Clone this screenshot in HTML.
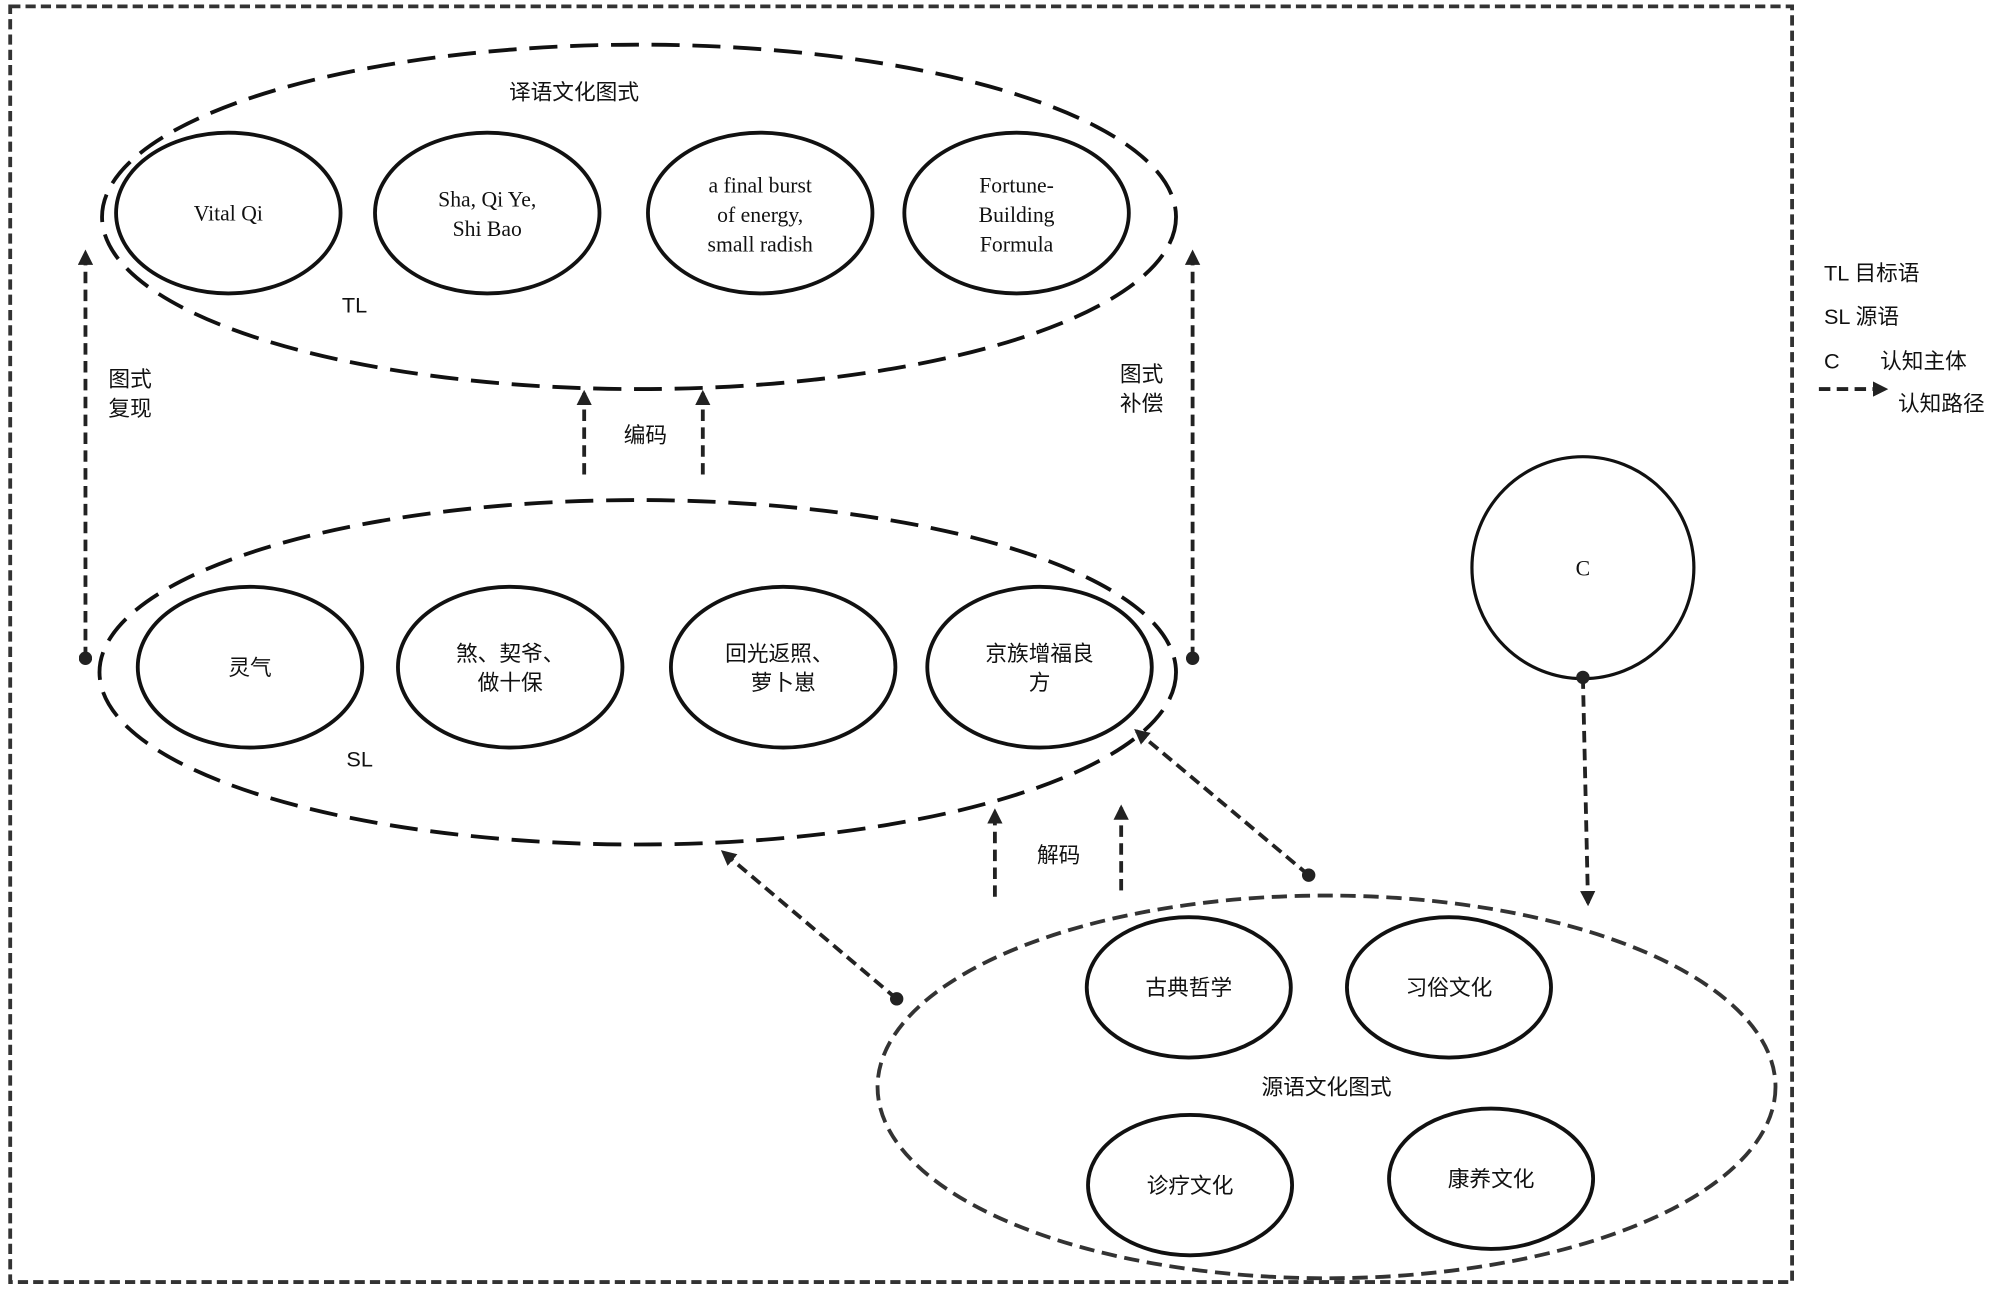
<!DOCTYPE html>
<html><head><meta charset="utf-8"><style>
html,body{margin:0;padding:0;background:#fff;}
svg{display:block;}
.cn{font-family:"Liberation Sans","Noto Sans CJK SC",sans-serif;font-size:17px;fill:#111;text-anchor:middle;}
.en{font-family:"Liberation Serif",serif;font-size:17px;fill:#111;text-anchor:middle;}
</style></head><body>
<svg width="2000" height="1291" viewBox="0 0 1568 1012" preserveAspectRatio="none" xmlns="http://www.w3.org/2000/svg">
<defs>
<marker id="ah" viewBox="0 0 10 10" refX="8" refY="5" markerWidth="4" markerHeight="4" orient="auto"><path d="M0,0 L10,5 L0,10 z" fill="#222"/></marker>
<marker id="dot" viewBox="0 0 10 10" refX="5" refY="5" markerWidth="3.5" markerHeight="3.5"><circle cx="5" cy="5" r="5" fill="#222"/></marker>
</defs>
<rect x="8" y="5" width="1397" height="1000" fill="none" stroke="#333" stroke-width="3" stroke-dasharray="8,4"/>
<g fill="none" stroke="#111" stroke-width="3">
<ellipse cx="501" cy="170" rx="421" ry="135" stroke-dasharray="22,10"/>
<ellipse cx="500" cy="527" rx="422" ry="135" stroke-dasharray="22,10"/>
<ellipse cx="1040" cy="852" rx="352" ry="150" stroke-dasharray="12,6" stroke="#333"/>
<ellipse cx="179" cy="167" rx="88" ry="63"/>
<ellipse cx="382" cy="167" rx="88" ry="63"/>
<ellipse cx="596" cy="167" rx="88" ry="63"/>
<ellipse cx="797" cy="167" rx="88" ry="63"/>
<ellipse cx="196" cy="523" rx="88" ry="63"/>
<ellipse cx="400" cy="523" rx="88" ry="63"/>
<ellipse cx="614" cy="523" rx="88" ry="63"/>
<ellipse cx="815" cy="523" rx="88" ry="63"/>
<ellipse cx="932" cy="774" rx="80" ry="55"/>
<ellipse cx="1136" cy="774" rx="80" ry="55"/>
<ellipse cx="933" cy="929" rx="80" ry="55"/>
<ellipse cx="1169" cy="924" rx="80" ry="55"/>
<circle cx="1241" cy="445" r="87" stroke-width="2.5"/>
</g>
<g fill="none" stroke="#222" stroke-width="3" stroke-dasharray="9,5">
<line x1="67" y1="516" x2="67" y2="198" marker-start="url(#dot)" marker-end="url(#ah)"/>
<line x1="935" y1="516" x2="935" y2="198" marker-start="url(#dot)" marker-end="url(#ah)"/>
<line x1="458" y1="372" x2="458" y2="308" marker-end="url(#ah)"/>
<line x1="551" y1="372" x2="551" y2="308" marker-end="url(#ah)"/>
<line x1="780" y1="703" x2="780" y2="636" marker-end="url(#ah)"/>
<line x1="879" y1="698" x2="879" y2="633" marker-end="url(#ah)"/>
<line x1="703" y1="783" x2="567" y2="668" marker-start="url(#dot)" marker-end="url(#ah)"/>
<line x1="1026" y1="686" x2="891" y2="573" marker-start="url(#dot)" marker-end="url(#ah)"/>
<line x1="1241" y1="531" x2="1245" y2="708" marker-start="url(#dot)" marker-end="url(#ah)"/>
<line x1="1426" y1="305" x2="1478" y2="305" marker-end="url(#ah)"/>
</g>
<text class="cn" x="450" y="78">译语文化图式</text>
<text class="en" x="179" y="173">Vital Qi</text>
<text class="en" x="382" y="162">Sha, Qi Ye,</text>
<text class="en" x="382" y="185">Shi Bao</text>
<text class="en" x="596" y="151">a final burst</text>
<text class="en" x="596" y="174">of energy,</text>
<text class="en" x="596" y="197">small radish</text>
<text class="en" x="797" y="151">Fortune-</text>
<text class="en" x="797" y="174">Building</text>
<text class="en" x="797" y="197">Formula</text>
<text class="cn" x="278" y="245">TL</text>
<text class="cn" x="102" y="303">图式</text>
<text class="cn" x="102" y="326">复现</text>
<text class="cn" x="895" y="299">图式</text>
<text class="cn" x="895" y="322">补偿</text>
<text class="cn" x="506" y="347">编码</text>
<text class="cn" x="196" y="529">灵气</text>
<text class="cn" x="400" y="518">煞、契爷、</text>
<text class="cn" x="400" y="541">做十保</text>
<text class="cn" x="611" y="518">回光返照、</text>
<text class="cn" x="614" y="541">萝卜崽</text>
<text class="cn" x="815" y="518">京族增福良</text>
<text class="cn" x="815" y="541">方</text>
<text class="cn" x="282" y="601">SL</text>
<text class="cn" x="830" y="676">解码</text>
<text class="cn" x="1241" y="451" style="font-family:'Liberation Serif',serif">C</text>
<text class="cn" x="932" y="780">古典哲学</text>
<text class="cn" x="1136" y="780">习俗文化</text>
<text class="cn" x="1040" y="858">源语文化图式</text>
<text class="cn" x="933" y="935">诊疗文化</text>
<text class="cn" x="1169" y="930">康养文化</text>
<g style="font-family:'Liberation Sans','Noto Sans CJK SC',sans-serif;font-size:17px;fill:#111">
<text x="1430" y="220">TL  目标语</text>
<text x="1430" y="254">SL  源语</text>
<text x="1430" y="289">C</text>
<text x="1474" y="289">认知主体</text>
<text x="1488" y="322">认知路径</text>
</g>
</svg>
</body></html>
